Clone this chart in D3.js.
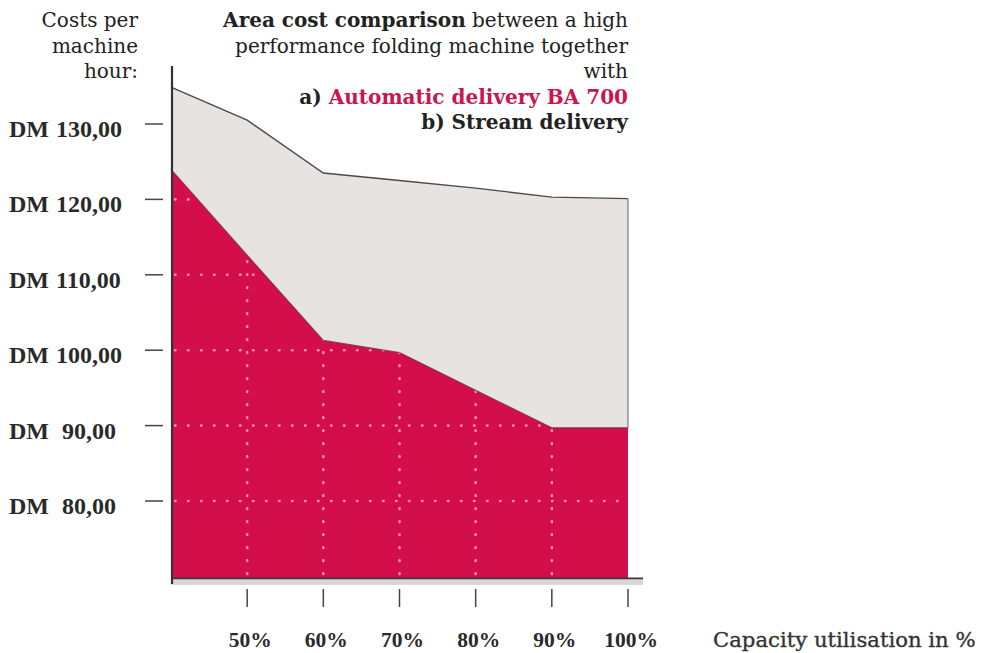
<!DOCTYPE html>
<html>
<head>
<meta charset="utf-8">
<script src="https://cdn.jsdelivr.net/npm/d3@7"></script>
<style>
  body { margin: 0; background: #fff; }
  svg { display: block; }
  .word { font-family: "DejaVu Serif", serif; fill: #222; font-size: 20px; }
  .num { font-family: "Liberation Serif", serif; fill: #2a2a2a; font-weight: bold; }
</style>
</head>
<body>
<svg id="chart" width="987" height="653"></svg>
<script>
// values (DM per machine hour)
const capacity = [40, 50, 60, 70, 80, 90, 100];
const streamCost = [134.9, 130.5, 123.5, 122.5, 121.5, 120.3, 120.1];     // b) Stream delivery
const automaticCost = [124.0, 112.6, 101.3, 99.7, 94.7, 89.7, 89.7];      // a) Automatic delivery BA 700
const yTicks = [130, 120, 110, 100, 90, 80];
const yTickLabels = ['130,00', '120,00', '110,00', '100,00', '90,00', '80,00'];
const xTicks = [50, 60, 70, 80, 90, 100];
const xTickLabels = ['50%', '60%', '70%', '80%', '90%', '100%'];
const gridY = [120, 110, 100, 90, 80];
const gridX = [50, 60, 70, 80, 90];
const yFloor = 69.8;

const RED = '#d30f4b';
const GREY = '#e7e3e0';

const svg = d3.select('#chart');
const x = d3.scaleLinear().domain([40, 100]).range([171, 628]);
const y = d3.scaleLinear().domain([80, 130]).range([501, 124]);

const rows = capacity.map((c, i) => ({ c, stream: streamCost[i], auto: automaticCost[i] }));

// grey area = stream delivery
const greyArea = d3.area().x(d => x(d.c)).y0(y(yFloor)).y1(d => y(d.stream));
svg.append('path').attr('d', greyArea(rows)).attr('fill', GREY);

// red area = automatic delivery
const redArea = d3.area().x(d => x(d.c)).y0(y(yFloor)).y1(d => y(d.auto));
svg.append('clipPath').attr('id', 'redClip')
  .append('path').attr('d', redArea(rows));
svg.append('path').attr('d', redArea(rows)).attr('fill', RED);

// dotted grid, only visible inside the red area
const grid = svg.append('g').attr('clip-path', 'url(#redClip)')
  .attr('stroke', '#ff9dbb').attr('stroke-width', 2.6).attr('stroke-linecap', 'round')
  .attr('stroke-dasharray', '0.5,12.5').attr('opacity', 0.9);
grid.selectAll('line.h').data(gridY).join('line').attr('class', 'h')
  .attr('x1', x(40) + 4).attr('x2', x(100)).attr('y1', d => y(d)).attr('y2', d => y(d));
grid.selectAll('line.v').data(gridX).join('line').attr('class', 'v')
  .attr('x1', d => x(d)).attr('x2', d => x(d)).attr('y1', y(yFloor) - 4).attr('y2', y(130));

// outlines
svg.append('path')
  .attr('d', d3.line().x(d => x(d.c)).y(d => y(d.auto))(rows))
  .attr('fill', 'none').attr('stroke', '#6e3343').attr('stroke-width', 1.1).attr('opacity', 0.8);
svg.append('path')
  .attr('d', d3.line().x(d => x(d.c)).y(d => y(d.stream))(rows))
  .attr('fill', 'none').attr('stroke', '#4a4a4a').attr('stroke-width', 1.4);
const last = rows[rows.length - 1];
svg.append('line')
  .attr('x1', x(last.c)).attr('x2', x(last.c))
  .attr('y1', y(last.stream)).attr('y2', y(last.auto))
  .attr('stroke', '#7a7a7a').attr('stroke-width', 1.2);

// x axis base (dark line with a light shadow band)
svg.append('rect').attr('x', x(40)).attr('y', y(yFloor) + 1)
  .attr('width', 643 - x(40)).attr('height', 6).attr('fill', '#d9d7d5');
svg.append('line').attr('x1', x(40)).attr('x2', 643)
  .attr('y1', y(yFloor) + 0.5).attr('y2', y(yFloor) + 0.5)
  .attr('stroke', '#3a3a3a').attr('stroke-width', 1.6);

// y axis line
svg.append('line').attr('x1', 172).attr('x2', 172).attr('y1', 66).attr('y2', y(yFloor) + 6)
  .attr('stroke', '#333').attr('stroke-width', 2.2);

// y ticks and labels
svg.selectAll('line.ytick').data(yTicks).join('line').attr('class', 'ytick')
  .attr('x1', 145).attr('x2', 163).attr('y1', d => y(d)).attr('y2', d => y(d))
  .attr('stroke', '#444').attr('stroke-width', 1.5);
const yl = svg.selectAll('text.ylab').data(yTicks).join('text').attr('class', 'num ylab')
  .attr('font-size', 24).attr('y', d => y(d) + 13);
yl.append('tspan').attr('x', 9).text('DM');
yl.append('tspan').attr('x', (d, i) => yTickLabels[i].length > 5 ? 56 : 62).text((d, i) => yTickLabels[i]);

// x ticks and labels
svg.selectAll('line.xtick').data(xTicks).join('line').attr('class', 'xtick')
  .attr('x1', d => x(d)).attr('x2', d => x(d)).attr('y1', 589).attr('y2', 607)
  .attr('stroke', '#444').attr('stroke-width', 1.5);
svg.selectAll('text.xlab').data(xTicks).join('text').attr('class', 'num xlab')
  .attr('font-size', 21.5).attr('fill', '#3a3a3a').attr('text-anchor', 'middle')
  .attr('x', d => x(d) + 3).attr('y', 647).text((d, i) => xTickLabels[i]);
svg.append('text').attr('class', 'word').attr('x', 713).attr('y', 647)
  .style('font-size', '21.2px').style('fill', '#333')
  .attr('stroke', '#333').attr('stroke-width', 0.35)
  .text('Capacity utilisation in %');

// left header
const head = ['Costs per', 'machine', 'hour:'];
svg.selectAll('text.head').data(head).join('text').attr('class', 'word head')
  .attr('text-anchor', 'end').attr('x', 138).attr('y', (d, i) => 27 + i * 25.5).text(d => d);

// title block, right aligned
const t1 = svg.append('text').attr('class', 'word').attr('text-anchor', 'end').attr('x', 628).attr('y', 27);
t1.append('tspan').attr('font-weight', 'bold').text('Area cost comparison');
t1.append('tspan').text(' between a high');
svg.append('text').attr('class', 'word').attr('text-anchor', 'end').attr('x', 628).attr('y', 52.5)
  .text('performance folding machine together');
svg.append('text').attr('class', 'word').attr('text-anchor', 'end').attr('x', 628).attr('y', 78)
  .text('with');
const t4 = svg.append('text').attr('class', 'word').attr('text-anchor', 'end').attr('x', 628).attr('y', 104)
  .attr('font-weight', 'bold');
t4.append('tspan').text('a) ');
t4.append('tspan').style('fill', '#c8164f').text('Automatic delivery BA 700');
svg.append('text').attr('class', 'word').attr('text-anchor', 'end').attr('x', 628).attr('y', 129)
  .attr('font-weight', 'bold').text('b) Stream delivery');
</script>
</body>
</html>
